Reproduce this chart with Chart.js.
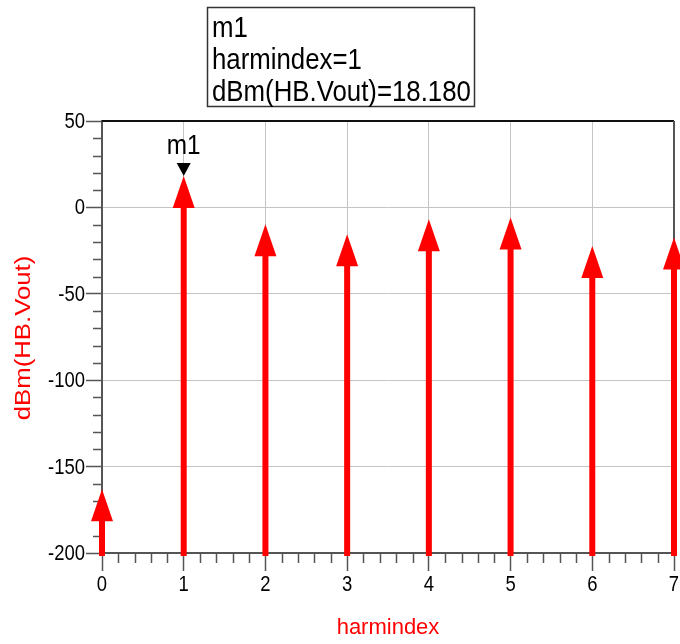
<!DOCTYPE html>
<html>
<head>
<meta charset="utf-8">
<title>dBm(HB.Vout)</title>
<script src="https://cdn.jsdelivr.net/npm/chart.js@4/dist/chart.umd.min.js"></script>
<style>
  html, body { margin: 0; padding: 0; background: #fff; }
  #wrap { width: 680px; height: 644px; position: relative; }
</style>
</head>
<body>
<div id="wrap"><canvas id="myChart"></canvas></div>
<script>
"use strict";

// harmonic index and output power in dBm
const harmIndex = [0, 1, 2, 3, 4, 5, 6, 7];
const dbmVout = [-163.1, 18.18, -9.7, -15.5, -6.8, -5.8, -22.4, -17.4];

// marker m1 sits on harmonic 1
const markerName = "m1";
const markerIdx = 1;

const yMin = -200;
const yMax = 50;
const yTitle = "dBm(HB.Vout)";

const fontFam = "'Liberation Sans', Arial, sans-serif";
const red = "#ff0000";
const axisGray = "#555555";

let points = [];
for (let i = 0; i < harmIndex.length; i++) {
    points.push({x: harmIndex[i], y: dbmVout[i]});
}

// narrow text: regular face squeezed horizontally
function narrowText(ctx, text, x, y, sx) {
    ctx.save();
    ctx.translate(x, y);
    ctx.scale(sx, 1);
    ctx.fillText(text, 0, 0);
    ctx.restore();
}

// stems with arrow heads, minor ticks, tick labels, frame, y title and the m1 marker
const stemPlugin = {
    id: "stems",
    afterDraw(chart) {
        const ctx = chart.ctx;
        const xs = chart.scales.x;
        const ys = chart.scales.y;
        const area = chart.chartArea;

        // minor ticks
        ctx.save();
        ctx.strokeStyle = axisGray;
        ctx.lineWidth = 1.5;
        ctx.beginPath();
        for (let v = 0; v <= 7.001; v += 0.2) {
            if (Math.abs(v - Math.round(v)) < 0.01) continue;
            const px = Math.round(xs.getPixelForValue(v)) + 0.5;
            ctx.moveTo(px, area.bottom);
            ctx.lineTo(px, area.bottom + 10);
        }
        for (let v = yMin; v <= yMax; v += 10) {
            if (v % 50 === 0) continue;
            const py = Math.round(ys.getPixelForValue(v)) + 0.5;
            ctx.moveTo(area.left, py);
            ctx.lineTo(area.left - 9, py);
        }
        ctx.stroke();

        // frame: dark top, grey right
        ctx.lineWidth = 2;
        ctx.strokeStyle = "#111111";
        ctx.beginPath();
        ctx.moveTo(area.left, area.top);
        ctx.lineTo(area.right, area.top);
        ctx.stroke();
        ctx.strokeStyle = axisGray;
        ctx.beginPath();
        ctx.moveTo(area.right, area.top);
        ctx.lineTo(area.right, area.bottom);
        ctx.stroke();
        ctx.restore();

        // tick labels from the scales' own ticks
        ctx.save();
        ctx.fillStyle = "#000";
        ctx.font = "22px " + fontFam;
        ctx.textBaseline = "middle";
        ctx.textAlign = "right";
        for (const t of ys.ticks) {
            narrowText(ctx, String(t.value), area.left - 17, ys.getPixelForValue(t.value) + 1, 0.84);
        }
        ctx.textAlign = "center";
        for (const t of xs.ticks) {
            narrowText(ctx, String(t.value), xs.getPixelForValue(t.value), area.bottom + 32, 0.84);
        }
        ctx.restore();

        // y axis title, stretched along its length
        ctx.save();
        ctx.fillStyle = red;
        ctx.font = "22px " + fontFam;
        ctx.textAlign = "center";
        ctx.textBaseline = "middle";
        ctx.translate(24, (area.top + area.bottom) / 2 + 1);
        ctx.rotate(-Math.PI / 2);
        ctx.scale(1.17, 1);
        ctx.fillText(yTitle, 0, 0);
        ctx.restore();

        // stems
        const meta = chart.getDatasetMeta(0);
        const base = ys.getPixelForValue(yMin) + 3;
        const headH = 32;
        const headW = 22;
        const stemW = 6;
        ctx.save();
        ctx.fillStyle = red;
        for (const pt of meta.data) {
            const x = pt.x;
            const tip = pt.y;
            ctx.fillRect(x - stemW / 2, tip + headH - 1, stemW, base - tip - headH + 1);
            ctx.beginPath();
            ctx.moveTo(x, tip);
            ctx.lineTo(x + headW / 2, tip + headH);
            ctx.lineTo(x - headW / 2, tip + headH);
            ctx.closePath();
            ctx.fill();
        }
        ctx.restore();

        // marker triangle and name
        const mp = meta.data[markerIdx];
        ctx.save();
        ctx.fillStyle = "#000";
        ctx.beginPath();
        ctx.moveTo(mp.x, mp.y);
        ctx.lineTo(mp.x + 7, mp.y - 13);
        ctx.lineTo(mp.x - 7, mp.y - 13);
        ctx.closePath();
        ctx.fill();
        ctx.font = "28px " + fontFam;
        ctx.textAlign = "center";
        ctx.textBaseline = "alphabetic";
        narrowText(ctx, markerName, mp.x, mp.y - 22, 0.87);
        ctx.restore();

        // marker readout box
        const lines = [
            markerName,
            "harmindex=" + harmIndex[markerIdx],
            "dBm(HB.Vout)=" + dbmVout[markerIdx].toFixed(3)
        ];
        ctx.save();
        ctx.strokeStyle = "#333";
        ctx.lineWidth = 1.5;
        ctx.strokeRect(207.5, 7.5, 267, 99);
        ctx.fillStyle = "#000";
        ctx.font = "30px " + fontFam;
        ctx.textAlign = "left";
        for (let i = 0; i < lines.length; i++) {
            narrowText(ctx, lines[i], 212, 37 + i * 32, 0.86);
        }
        ctx.restore();
    }
};

const config = {
    type: "scatter",
    data: {
        datasets: [{
            label: yTitle,
            data: points,
            pointRadius: 0,
            showLine: false,
            clip: false
        }]
    },
    options: {
        responsive: true,
        maintainAspectRatio: false,
        animation: false,
        layout: {
            padding: {top: 121, right: 6, left: 0, bottom: 0}
        },
        plugins: {
            legend: {display: false},
            tooltip: {enabled: false}
        },
        scales: {
            x: {
                type: "linear",
                min: 0,
                max: 7,
                afterFit(scale) { scale.height = 91; },
                ticks: {
                    stepSize: 1,
                    display: false
                },
                grid: {
                    color: "#c4c4c4",
                    lineWidth: 1,
                    tickLength: 18,
                    tickColor: axisGray,
                    tickWidth: 1.5
                },
                border: {color: axisGray, width: 2},
                title: {
                    display: true,
                    text: "harmindex",
                    color: red,
                    padding: {top: 0, bottom: 3},
                    font: {family: fontFam, size: 22}
                }
            },
            y: {
                min: yMin,
                max: yMax,
                afterFit(scale) { scale.width = 102; },
                ticks: {
                    stepSize: 50,
                    display: false
                },
                grid: {
                    color: "#c4c4c4",
                    lineWidth: 1,
                    tickLength: 16,
                    tickColor: axisGray,
                    tickWidth: 1.5
                },
                border: {color: axisGray, width: 2}
            }
        }
    },
    plugins: [stemPlugin]
};

let myChart = new Chart(document.getElementById("myChart"), config);
</script>
</body>
</html>
